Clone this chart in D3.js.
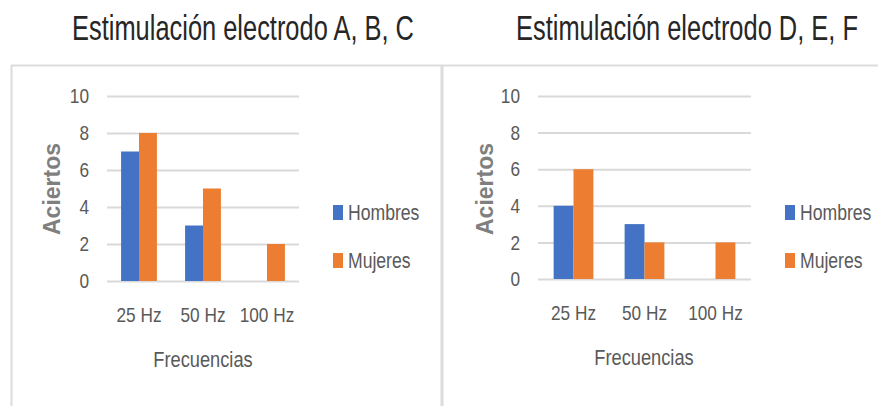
<!DOCTYPE html>
<html>
<head>
<meta charset="utf-8">
<script src="https://cdn.jsdelivr.net/npm/d3@7"></script>
<style>
  body { margin: 0; background: #fff; }
  text { font-family: "Liberation Sans Narrow", "Liberation Sans", Arial, sans-serif; }
</style>
</head>
<body>
<div id="chart"></div>
<script>
// data
const categories = ["25 Hz", "50 Hz", "100 Hz"];
const seriesNames = ["Hombres", "Mujeres"];
const hombresABC = [7, 3, 0];
const mujeresABC = [8, 5, 2];
const hombresDEF = [4, 3, 0];
const mujeresDEF = [6, 2, 2];
const yTicks = [0, 2, 4, 6, 8, 10];
const titles = ["Estimulación electrodo A, B, C", "Estimulación electrodo D, E, F"];

const colors = ["#4472C4", "#ED7D31"];
const gray = "#595959";
const narrow = 0.82;   // the source uses a condensed face

const svg = d3.select("#chart").append("svg")
    .attr("width", 878)
    .attr("height", 406);

// squeeze a positioned text horizontally (keeps its bbox honest)
function squeeze(sel, factor, width) {
    sel.each(function() {
        let t = d3.select(this);
        let s = width ? width / this.getComputedTextLength() : factor;
        let x = +t.attr("x") || 0, y = +t.attr("y") || 0;
        t.attr("x", 0).attr("y", 0)
            .attr("transform", "translate(" + x + "," + y + ") scale(" + s + ",1)");
    });
}

// squeeze tick labels via textLength
function squeezeTicks(sel) {
    sel.each(function() {
        let len = this.getComputedTextLength();
        d3.select(this).attr("textLength", len * narrow).attr("lengthAdjust", "spacingAndGlyphs");
    });
}

// frame lines
svg.append("line").attr("x1", 11).attr("x2", 878).attr("y1", 65.5).attr("y2", 65.5)
    .attr("stroke", "#dcdcdc").attr("stroke-width", 2);
svg.append("line").attr("x1", 11.5).attr("x2", 11.5).attr("y1", 65).attr("y2", 406)
    .attr("stroke", "#dcdcdc").attr("stroke-width", 2);
svg.append("line").attr("x1", 442).attr("x2", 442).attr("y1", 65).attr("y2", 406)
    .attr("stroke", "#dcdcdc").attr("stroke-width", 3);

function drawChart(cfg) {
    let rows = categories.map((c, i) => ({cat: c, vals: [cfg.hombres[i], cfg.mujeres[i]]}));

    // title
    svg.append("text")
        .attr("x", cfg.titleX).attr("y", 40)
        .attr("text-anchor", "middle")
        .attr("font-size", 35)
        .attr("fill", "#262626")
        .text(cfg.title)
        .call(squeeze, null, 342);

    let x0 = d3.scaleBand()
        .domain(categories)
        .range([cfg.left, cfg.right])
        .paddingInner(0.44)
        .paddingOuter(0.22);

    let x1 = d3.scaleBand()
        .domain(seriesNames)
        .range([0, x0.bandwidth()]);

    let y = d3.scaleLinear()
        .domain([0, 10])
        .range([cfg.bottom, 96]);

    // gridlines
    let yAxis = svg.append("g")
        .attr("transform", "translate(" + cfg.left + ",0)")
        .call(d3.axisLeft(y).tickValues(yTicks).tickSize(-(cfg.right - cfg.left)).tickPadding(18));
    yAxis.select(".domain").remove();
    yAxis.selectAll(".tick line").attr("stroke", "#d9d9d9").attr("stroke-width", 2);
    yAxis.selectAll(".tick text")
        .attr("fill", gray)
        .attr("font-size", 21)
        .style("font-family", '"Liberation Sans Narrow", "Liberation Sans", sans-serif')
        .call(squeezeTicks);

    // bars
    let groups = svg.selectAll(null)
        .data(rows)
        .enter()
        .append("g")
        .attr("transform", d => "translate(" + x0(d.cat) + ",0)");

    groups.selectAll("rect")
        .data(d => d.vals.map((v, i) => ({name: seriesNames[i], value: v})))
        .enter()
        .append("rect")
        .attr("x", d => x1(d.name))
        .attr("y", d => y(d.value))
        .attr("width", x1.bandwidth())
        .attr("height", d => y(0) - y(d.value))
        .attr("fill", (d, i) => colors[i]);

    // x labels
    let xAxis = svg.append("g")
        .attr("transform", "translate(0," + cfg.bottom + ")")
        .call(d3.axisBottom(x0).tickSize(0).tickPadding(26));
    xAxis.select(".domain").remove();
    xAxis.selectAll(".tick text")
        .attr("fill", gray)
        .attr("font-size", 21)
        .style("font-family", '"Liberation Sans Narrow", "Liberation Sans", sans-serif')
        .call(squeezeTicks);

    // axis titles
    svg.append("text")
        .attr("x", cfg.xTitleX).attr("y", cfg.bottom + 86)
        .attr("text-anchor", "middle")
        .attr("font-size", 22)
        .attr("fill", gray)
        .text("Frecuencias")
        .call(squeeze, 0.83);

    svg.append("text")
        .attr("transform", "translate(" + cfg.yTitleX + ",189) rotate(-90)")
        .attr("text-anchor", "middle")
        .attr("font-size", 23)
        .attr("font-weight", "bold")
        .attr("fill", "#7f7f7f")
        .text("Aciertos");

    // legend
    let legend = svg.selectAll(null)
        .data(seriesNames)
        .enter()
        .append("g")
        .attr("transform", (d, i) => "translate(" + cfg.legendX + "," + (205 + i * 48) + ")");
    legend.append("rect")
        .attr("width", 10).attr("height", 15)
        .attr("fill", (d, i) => colors[i]);
    legend.append("text")
        .attr("x", 15).attr("y", 15)
        .attr("font-size", 22)
        .attr("fill", gray)
        .text(d => d)
        .call(squeeze, 0.8);
}

drawChart({title: titles[0], titleX: 243, left: 107, right: 299, bottom: 281,
    hombres: hombresABC, mujeres: mujeresABC, xTitleX: 203, yTitleX: 60, legendX: 333});
drawChart({title: titles[1], titleX: 687, left: 538, right: 751, bottom: 279,
    hombres: hombresDEF, mujeres: mujeresDEF, xTitleX: 644, yTitleX: 493, legendX: 785});
</script>
</body>
</html>
